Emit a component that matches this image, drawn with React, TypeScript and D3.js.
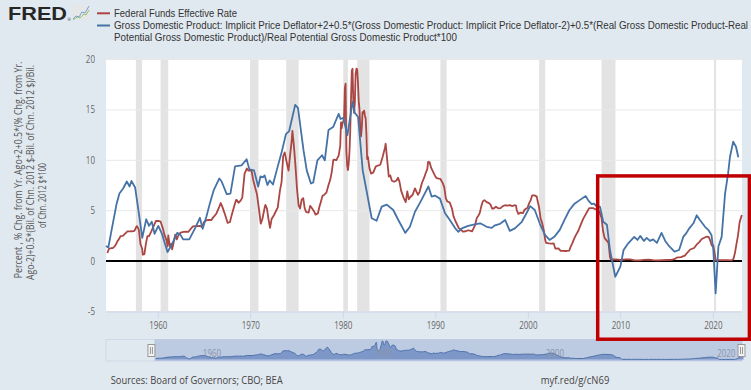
import React from 'react';
import * as d3 from 'd3';

// Federal funds effective rate, [decimal year, percent]
const fedFunds: [number, number][] = [
  [1954.5, 0.8], [1954.67, 1.22], [1954.92, 1.28], [1955.08, 1.29], [1955.25, 1.43], [1955.42, 1.64],
  [1955.58, 1.96], [1955.75, 2.18], [1955.92, 2.48], [1956.17, 2.5], [1956.42, 2.73], [1956.67, 2.95],
  [1956.92, 2.94], [1957.17, 2.96], [1957.42, 3.0], [1957.67, 3.47], [1957.83, 3.28], [1957.92, 2.98],
  [1958.08, 1.67], [1958.25, 1.26], [1958.33, 0.63], [1958.5, 0.68], [1958.67, 1.76], [1958.83, 2.48],
  [1959.0, 2.48], [1959.25, 2.96], [1959.5, 3.47], [1959.75, 3.98], [1960.0, 3.99], [1960.25, 3.92],
  [1960.5, 3.23], [1960.67, 2.6], [1960.92, 1.98], [1961.0, 1.45], [1961.08, 2.54], [1961.25, 1.49],
  [1961.42, 1.73], [1961.5, 1.17], [1961.67, 1.88], [1961.83, 2.62], [1962.0, 2.15], [1962.25, 2.71],
  [1962.5, 2.85], [1962.75, 2.9], [1963.0, 2.92], [1963.25, 2.9], [1963.5, 3.18], [1963.75, 3.45],
  [1964.0, 3.48], [1964.25, 3.47], [1964.5, 3.5], [1964.75, 3.36], [1964.92, 3.85], [1965.25, 4.07],
  [1965.5, 4.09], [1965.75, 4.07], [1965.92, 4.32], [1966.25, 4.67], [1966.5, 5.17], [1966.75, 5.76],
  [1966.92, 5.4], [1967.08, 4.98], [1967.25, 4.53], [1967.5, 3.79], [1967.75, 3.88], [1967.92, 4.51],
  [1968.25, 5.58], [1968.42, 6.08], [1968.5, 6.03], [1968.67, 5.78], [1968.92, 6.02], [1969.08, 6.3],
  [1969.33, 8.67], [1969.58, 9.19], [1969.75, 8.97], [1969.92, 8.97], [1970.08, 8.98], [1970.25, 8.1],
  [1970.5, 7.21], [1970.67, 6.62], [1970.92, 4.9], [1971.08, 3.71], [1971.25, 4.15], [1971.5, 5.31],
  [1971.58, 5.57], [1971.75, 5.2], [1971.92, 4.14], [1972.08, 3.29], [1972.25, 4.17], [1972.5, 4.55],
  [1972.67, 4.87], [1972.92, 5.33], [1973.0, 5.94], [1973.17, 7.09], [1973.33, 7.84], [1973.5, 10.4],
  [1973.67, 10.78], [1973.83, 10.03], [1974.08, 8.97], [1974.25, 10.51], [1974.42, 11.93], [1974.5, 12.92],
  [1974.67, 11.34], [1974.83, 9.45], [1975.0, 7.13], [1975.17, 5.54], [1975.33, 5.22], [1975.5, 6.1],
  [1975.67, 6.24], [1975.83, 5.22], [1976.0, 4.87], [1976.25, 4.82], [1976.42, 5.48], [1976.58, 5.29],
  [1976.83, 4.95], [1977.0, 4.61], [1977.25, 4.73], [1977.42, 5.39], [1977.58, 5.9], [1977.75, 6.47],
  [1977.92, 6.56], [1978.17, 6.79], [1978.42, 7.6], [1978.58, 8.04], [1978.75, 8.81], [1978.92, 10.03],
  [1979.0, 10.07], [1979.25, 10.01], [1979.5, 10.47], [1979.67, 11.43], [1979.75, 13.77], [1979.83, 13.18],
  [1979.92, 13.78], [1980.0, 13.82], [1980.08, 14.13], [1980.17, 17.19], [1980.25, 17.61], [1980.33, 10.98],
  [1980.42, 9.47], [1980.5, 9.03], [1980.58, 9.61], [1980.67, 10.87], [1980.75, 12.81], [1980.83, 15.85],
  [1980.92, 18.9], [1981.0, 19.08], [1981.08, 15.93], [1981.17, 14.7], [1981.25, 15.72], [1981.33, 18.52],
  [1981.42, 19.1], [1981.5, 19.04], [1981.58, 17.82], [1981.67, 15.87], [1981.75, 15.08], [1981.83, 13.31],
  [1981.92, 12.37], [1982.0, 13.22], [1982.08, 14.78], [1982.17, 14.68], [1982.25, 14.94], [1982.33, 14.45],
  [1982.42, 14.15], [1982.5, 12.59], [1982.58, 10.12], [1982.67, 10.31], [1982.75, 9.71], [1982.83, 9.2],
  [1982.92, 8.95], [1983.0, 8.68], [1983.25, 8.8], [1983.5, 9.37], [1983.75, 9.48], [1984.0, 9.56],
  [1984.25, 10.32], [1984.5, 11.23], [1984.58, 11.64], [1984.75, 9.99], [1984.92, 8.38], [1985.08, 8.5],
  [1985.25, 7.97], [1985.5, 7.87], [1985.75, 7.99], [1985.92, 8.27], [1986.08, 7.86], [1986.25, 6.99],
  [1986.5, 6.33], [1986.75, 5.85], [1986.92, 6.91], [1987.08, 6.13], [1987.25, 6.36], [1987.5, 6.58],
  [1987.75, 7.22], [1987.92, 6.86], [1988.08, 6.58], [1988.25, 6.87], [1988.5, 7.75], [1988.75, 8.3],
  [1988.92, 8.76], [1989.08, 9.12], [1989.17, 9.85], [1989.33, 9.81], [1989.5, 9.24], [1989.75, 8.77],
  [1989.92, 8.45], [1990.08, 8.24], [1990.33, 8.18], [1990.5, 8.15], [1990.75, 7.74], [1990.92, 7.31],
  [1991.08, 6.25], [1991.25, 5.91], [1991.5, 5.82], [1991.75, 5.21], [1991.92, 4.43], [1992.08, 4.06],
  [1992.25, 3.73], [1992.5, 3.25], [1992.75, 3.09], [1992.92, 2.92], [1993.25, 2.96], [1993.5, 3.06],
  [1993.75, 2.99], [1993.92, 2.96], [1994.08, 3.25], [1994.25, 3.56], [1994.42, 4.25], [1994.58, 4.47],
  [1994.75, 4.76], [1994.92, 5.45], [1995.08, 5.92], [1995.25, 6.05], [1995.5, 5.85], [1995.75, 5.76],
  [1995.92, 5.6], [1996.08, 5.22], [1996.25, 5.22], [1996.5, 5.4], [1996.75, 5.24], [1997.0, 5.25],
  [1997.25, 5.45], [1997.5, 5.54], [1997.75, 5.5], [1998.0, 5.56], [1998.25, 5.45], [1998.5, 5.54],
  [1998.67, 5.51], [1998.75, 5.07], [1998.92, 4.68], [1999.17, 4.81], [1999.42, 4.76], [1999.58, 5.07],
  [1999.75, 5.2], [1999.92, 5.3], [2000.08, 5.73], [2000.25, 6.02], [2000.42, 6.53], [2000.67, 6.52],
  [2000.92, 6.4], [2001.0, 5.98], [2001.17, 5.31], [2001.33, 4.21], [2001.5, 3.77], [2001.67, 3.07],
  [2001.83, 2.09], [2001.92, 1.82], [2002.25, 1.75], [2002.5, 1.73], [2002.75, 1.75], [2002.92, 1.24],
  [2003.25, 1.26], [2003.5, 1.01], [2003.75, 1.01], [2004.0, 1.0], [2004.42, 1.03], [2004.58, 1.43],
  [2004.75, 1.76], [2004.92, 2.16], [2005.17, 2.63], [2005.42, 3.04], [2005.67, 3.62], [2005.92, 4.16],
  [2006.17, 4.59], [2006.42, 4.99], [2006.58, 5.25], [2007.0, 5.25], [2007.58, 5.02], [2007.75, 4.76],
  [2007.92, 4.24], [2008.08, 2.98], [2008.25, 2.28], [2008.5, 2.01], [2008.67, 1.81], [2008.83, 0.39],
  [2008.92, 0.16], [2009.5, 0.16], [2010.0, 0.11], [2010.5, 0.18], [2011.0, 0.17], [2011.5, 0.07],
  [2012.0, 0.08], [2012.5, 0.13], [2013.0, 0.14], [2013.5, 0.09], [2014.0, 0.07], [2014.5, 0.09],
  [2015.0, 0.11], [2015.5, 0.13], [2015.92, 0.24], [2016.0, 0.34], [2016.5, 0.39], [2016.92, 0.54],
  [2017.25, 0.9], [2017.5, 1.15], [2017.92, 1.3], [2018.25, 1.69], [2018.5, 1.91], [2018.75, 2.19],
  [2018.92, 2.27], [2019.25, 2.42], [2019.5, 2.4], [2019.67, 2.04], [2019.83, 1.55], [2020.0, 1.55],
  [2020.17, 0.65], [2020.25, 0.05], [2020.5, 0.09], [2021.0, 0.09], [2021.5, 0.1], [2022.0, 0.08],
  [2022.17, 0.2], [2022.33, 0.77], [2022.5, 1.68], [2022.67, 2.56], [2022.83, 3.78], [2022.92, 4.1],
  [2023.0, 4.33], [2023.08, 4.57],
];

// Taylor-rule style series (GDP deflator + output gap), [decimal year, percent]
const taylorRule: [number, number][] = [
  [1954.35, 1.5], [1954.6, 1.35], [1955.0, 3.3], [1955.5, 5.7], [1955.8, 6.7], [1956.2, 7.2],
  [1956.6, 7.9], [1956.9, 7.4], [1957.1, 7.95], [1957.5, 7.3], [1957.8, 5.4], [1958.27, 2.3],
  [1958.7, 4.15], [1959.0, 3.5], [1959.3, 3.9], [1959.6, 2.7], [1960.0, 3.5], [1960.4, 2.7],
  [1960.7, 1.8], [1961.0, 0.9], [1961.45, 1.6], [1962.05, 2.8], [1962.4, 2.6], [1962.7, 2.15],
  [1963.35, 2.15], [1964.0, 3.3], [1964.5, 4.3], [1964.8, 3.2], [1965.2, 4.4], [1965.6, 5.8],
  [1966.0, 7.05], [1966.6, 8.2], [1966.85, 7.9], [1967.4, 6.65], [1967.8, 6.7], [1968.3, 9.4],
  [1969.0, 9.5], [1969.55, 10.1], [1969.85, 9.1], [1970.35, 9.0], [1970.8, 7.4], [1971.05, 8.4],
  [1971.3, 8.3], [1971.5, 8.5], [1971.8, 7.55], [1972.05, 8.0], [1972.4, 7.6], [1972.8, 9.0],
  [1973.35, 10.85], [1973.8, 12.6], [1974.15, 12.9], [1974.8, 15.5], [1975.1, 15.2], [1975.7, 11.0],
  [1976.05, 9.0], [1976.5, 7.7], [1976.75, 7.8], [1977.2, 10.0], [1977.7, 10.5], [1978.0, 10.0],
  [1978.4, 13.0], [1978.9, 13.3], [1979.5, 14.6], [1979.7, 14.1], [1980.0, 14.2], [1980.45, 12.5],
  [1981.0, 15.8], [1981.25, 14.7], [1981.6, 14.3], [1982.1, 9.0], [1982.5, 7.05], [1983.07, 4.25],
  [1983.6, 4.0], [1984.15, 5.4], [1984.7, 5.6], [1985.4, 5.07], [1985.95, 4.08], [1986.7, 2.8],
  [1987.2, 3.4], [1987.75, 4.9], [1988.3, 5.8], [1989.2, 7.4], [1989.55, 6.4], [1989.9, 6.5],
  [1990.45, 6.2], [1991.0, 4.75], [1991.5, 4.1], [1992.1, 3.25], [1992.45, 2.9], [1992.8, 3.25],
  [1993.5, 3.5], [1994.2, 3.65], [1994.8, 3.75], [1995.5, 3.4], [1996.05, 3.3], [1996.4, 3.55],
  [1996.95, 3.7], [1997.5, 4.07], [1998.0, 3.0], [1998.55, 3.25], [1999.3, 3.9], [1999.8, 4.75],
  [2000.2, 5.45], [2000.7, 5.07], [2001.25, 3.7], [2001.8, 2.6], [2002.3, 2.1], [2002.85, 2.45],
  [2003.4, 3.1], [2003.9, 4.07], [2004.45, 5.07], [2005.0, 5.7], [2005.55, 6.05], [2006.2, 6.45],
  [2006.5, 6.0], [2006.85, 5.65], [2007.1, 5.7], [2007.4, 5.4], [2007.75, 5.4], [2008.1, 3.9],
  [2008.5, 3.6], [2008.83, 1.1], [2009.4, -1.55], [2009.95, -0.55], [2010.3, 1.1], [2010.8, 1.77],
  [2011.45, 2.4], [2011.8, 2.1], [2012.1, 2.5], [2012.5, 2.0], [2012.8, 2.3], [2013.15, 2.0],
  [2013.5, 2.15], [2013.9, 1.8], [2014.4, 2.8], [2014.8, 2.0], [2015.25, 1.45], [2015.8, 0.95],
  [2016.3, 1.1], [2016.75, 2.4], [2017.1, 2.8], [2017.4, 3.25], [2017.85, 3.75], [2018.2, 4.55],
  [2018.55, 4.07], [2019.1, 3.4], [2019.45, 3.1], [2019.8, 2.6], [2020.0, 1.1], [2020.25, -3.2],
  [2020.55, 1.45], [2020.9, 2.4], [2021.27, 6.7], [2021.6, 8.7], [2021.8, 10.35], [2022.15, 11.85],
  [2022.45, 11.35], [2022.7, 10.3],
];

// NBER recessions, [start, end]
const recessions: [number, number][] = [
  [1957.58, 1958.25], [1960.25, 1961.08], [1969.92, 1970.83], [1973.83, 1975.17], [1980.0, 1980.5],
  [1981.5, 1982.83], [1990.5, 1991.17], [2001.17, 2001.83], [2007.92, 2009.42], [2020.08, 2020.3],
];

const yTicks = [-5, 0, 5, 10, 15, 20];
const xTicks = [1960, 1970, 1980, 1990, 2000, 2010, 2020];
const navTicks = [1960, 1980, 2000, 2020];

const legendItems = [
  {color: '#aa4643', lines: ['Federal Funds Effective Rate']},
  {
    color: '#4572a7',
    lines: [
      'Gross Domestic Product: Implicit Price Deflator+2+0.5*(Gross Domestic Product: Implicit Price Deflator-2)+0.5*(Real Gross Domestic Product-Real',
      'Potential Gross Domestic Product)/Real Potential Gross Domestic Product*100',
    ],
  },
];
const legendWidths = [123, 634, 343];

const axisTitle = [
  'Percent , % Chg. from Yr. Ago+2+0.5*(% Chg. from Yr.',
  'Ago-2)+0.5*(Bil. of Chn. 2012 $-Bil. of Chn. 2012 $)/Bil.',
  'of Chn. 2012 $*100',
];

// highlighted box drawn over the chart, in data units
const boxYears = [2007.5, 2023.9];
const boxValues = [-7.75, 8.45];

const W = 751;
const H = 390;
const FONT = "'Open Sans', 'DejaVu Sans', sans-serif";
const SQ = 0.8; // the reference text is squeezed horizontally

const x = d3.scaleLinear().domain([1954.35, 2023.1]).range([106, 742]);
const y = d3.scaleLinear().domain([-5, 20]).range([311.5, 59.5]);
const navX = d3.scaleLinear().domain([1948.7, 2022.9]).range([106, 742]);
const navY = d3.scaleLinear().domain([0, 19.1]).range([359.5, 341]);

function Txt({x, y, anchor = 'start', size = 10, fill = '#666', children}: any) {
  return (
    <text transform={`translate(${x},${y}) scale(${SQ},1)`} textAnchor={anchor}
      fontSize={size} fill={fill} fontFamily={FONT}>{children}</text>
  );
}

export default function App() {
  const line = d3.line<[number, number]>().x((d) => x(d[0])).y((d) => y(d[1]));
  const navArea = d3.area<[number, number]>()
      .x((d) => navX(d[0])).y0(navY(0)).y1((d) => navY(d[1]))
      .curve(d3.curveMonotoneX);
  const navLine = d3.line<[number, number]>()
      .x((d) => navX(d[0])).y((d) => navY(d[1]))
      .curve(d3.curveMonotoneX);
  const [x0, x1] = x.range();
  const [yb, yt] = y.range();
  const maskLeft = navX(x.domain()[0]);

  let row = 0;
  return (
    <svg width={W} height={H} style={{position: 'absolute', left: 0, top: 0}}>
      <rect width={W} height={H} fill="#e1e9f0" />

      {/* logo */}
      <text x={8} y={20} fontSize={18.5} fontWeight={900} fontFamily="'Liberation Sans', Arial, sans-serif"
        fill="#262626" textLength={59} lengthAdjust="spacingAndGlyphs">FRED</text>
      <text x={67.5} y={21} fontSize={4} fill="#262626" fontFamily={FONT}>®</text>
      <g>
        <rect x={72} y={6} width={18} height={14} fill="#e4e6e8" />
        <polyline points="73,19 76,16 79,17 82,12 85,13 89,6" fill="none" stroke="#7a9fd3" strokeWidth={1} />
        <polyline points="73,20 77,17 80,18 84,14 86,15 89,10" fill="none" stroke="#92c46f" strokeWidth={1} />
      </g>

      {/* legend */}
      {legendItems.map((item, i) => (
        <g key={i}>
          {item.lines.map((t, j) => {
            const r = row++;
            const cy = 13.3 + r * 12.2;
            return (
              <g key={j}>
                {j === 0 && <line x1={97} x2={110} y1={cy} y2={cy} stroke={item.color} strokeWidth={2} />}
                <text transform={`translate(114,${cy + 3.6}) scale(${SQ},1)`} fontSize={10.3} fill="#333"
                  fontFamily="'Liberation Sans', Arial, sans-serif"
                  textLength={legendWidths[r] / SQ} lengthAdjust="spacingAndGlyphs">{t}</text>
              </g>
            );
          })}
        </g>
      ))}

      {/* plot background */}
      <rect x={x0} y={yt} width={x1 - x0} height={yb - yt} fill="#ffffff" />
      {recessions.map(([a, b], i) => (
        <rect key={i} x={x(a)} y={yt} width={x(b) - x(a)} height={yb - yt} fill="#e3e3e3" />
      ))}
      {yTicks.map((t) => (
        <line key={t} x1={x0} x2={x1} y1={y(t)} y2={y(t)} stroke="#e8e8e8" strokeWidth={1} />
      ))}
      <line x1={x0} x2={x1} y1={yb + 0.5} y2={yb + 0.5} stroke="#ccd6eb" />
      {xTicks.map((t) => (
        <line key={t} x1={x(t)} x2={x(t)} y1={yb} y2={yb + 7} stroke="#ccd6eb" />
      ))}

      {/* zero line */}
      <line x1={x0} x2={x1} y1={y(0)} y2={y(0)} stroke="#000" strokeWidth={2} />

      {/* series */}
      <path d={line(fedFunds) || ''} fill="none" stroke="#aa4643" strokeWidth={1.8} strokeLinejoin="round" />
      <path d={line(taylorRule) || ''} fill="none" stroke="#4572a7" strokeWidth={1.8} strokeLinejoin="round" />

      {/* y tick labels */}
      {yTicks.map((t) => (
        <Txt key={t} x={95} y={y(t) + 3.5} anchor="end">{t}</Txt>
      ))}
      {/* x tick labels */}
      {xTicks.map((t) => (
        <Txt key={t} x={x(t)} y={328.5} anchor="middle">{t}</Txt>
      ))}

      {/* y axis title */}
      {axisTitle.map((t, i) => {
        const cx = [18.3, 30, 42][i];
        const cy = [170, 172.5, 195.5][i];
        const len = [216.6, 215, 65][i];
        return (
          <text key={i} transform={`translate(${cx},${cy}) rotate(-90)`} textAnchor="middle"
            dominantBaseline="central" fontSize={10} fill="#555" fontFamily={FONT}
            textLength={len} lengthAdjust="spacingAndGlyphs">{t}</text>
        );
      })}

      {/* navigator */}
      <rect x={106} y={339.5} width={636} height={21.5} fill="none" stroke="#cfd8e6" />
      <rect x={maskLeft} y={339.5} width={742 - maskLeft} height={21.5} fill="rgba(102,133,194,0.3)" />
      <path d={navArea(fedFunds) || ''} fill="#7d98c8" />
      <path d={navLine(fedFunds) || ''} fill="none" stroke="#4e72aa" strokeWidth={1} />
      {navTicks.map((t) => (
        <Txt key={t} x={navX(t)} y={356.5} fill="#8a95a8" size={10}>{t}</Txt>
      ))}
      {[maskLeft - 3.5, 741].map((hx, i) => (
        <g key={i}>
          <rect x={hx - 3} y={344.5} width={7} height={12} fill="#f2f2f2" stroke="#999" strokeWidth={1} />
          <line x1={hx - 0.5} x2={hx - 0.5} y1={347} y2={354} stroke="#999" />
          <line x1={hx + 1.5} x2={hx + 1.5} y1={347} y2={354} stroke="#999" />
        </g>
      ))}

      {/* sources */}
      <text x={110.7} y={383.5} fontSize={10.5} fill="#444" fontFamily={FONT}
        textLength={172} lengthAdjust="spacingAndGlyphs">Sources: Board of Governors; CBO; BEA</text>
      <text x={540.7} y={383.5} fontSize={10.5} fill="#444" fontFamily={FONT}
        textLength={68.6} lengthAdjust="spacingAndGlyphs">myf.red/g/cN69</text>

      {/* highlight box */}
      <rect x={x(boxYears[0])} y={y(boxValues[1])} width={x(boxYears[1]) - x(boxYears[0])}
        height={y(boxValues[0]) - y(boxValues[1])} fill="none" stroke="#c00000" strokeWidth={3.5} />
    </svg>
  );
}
